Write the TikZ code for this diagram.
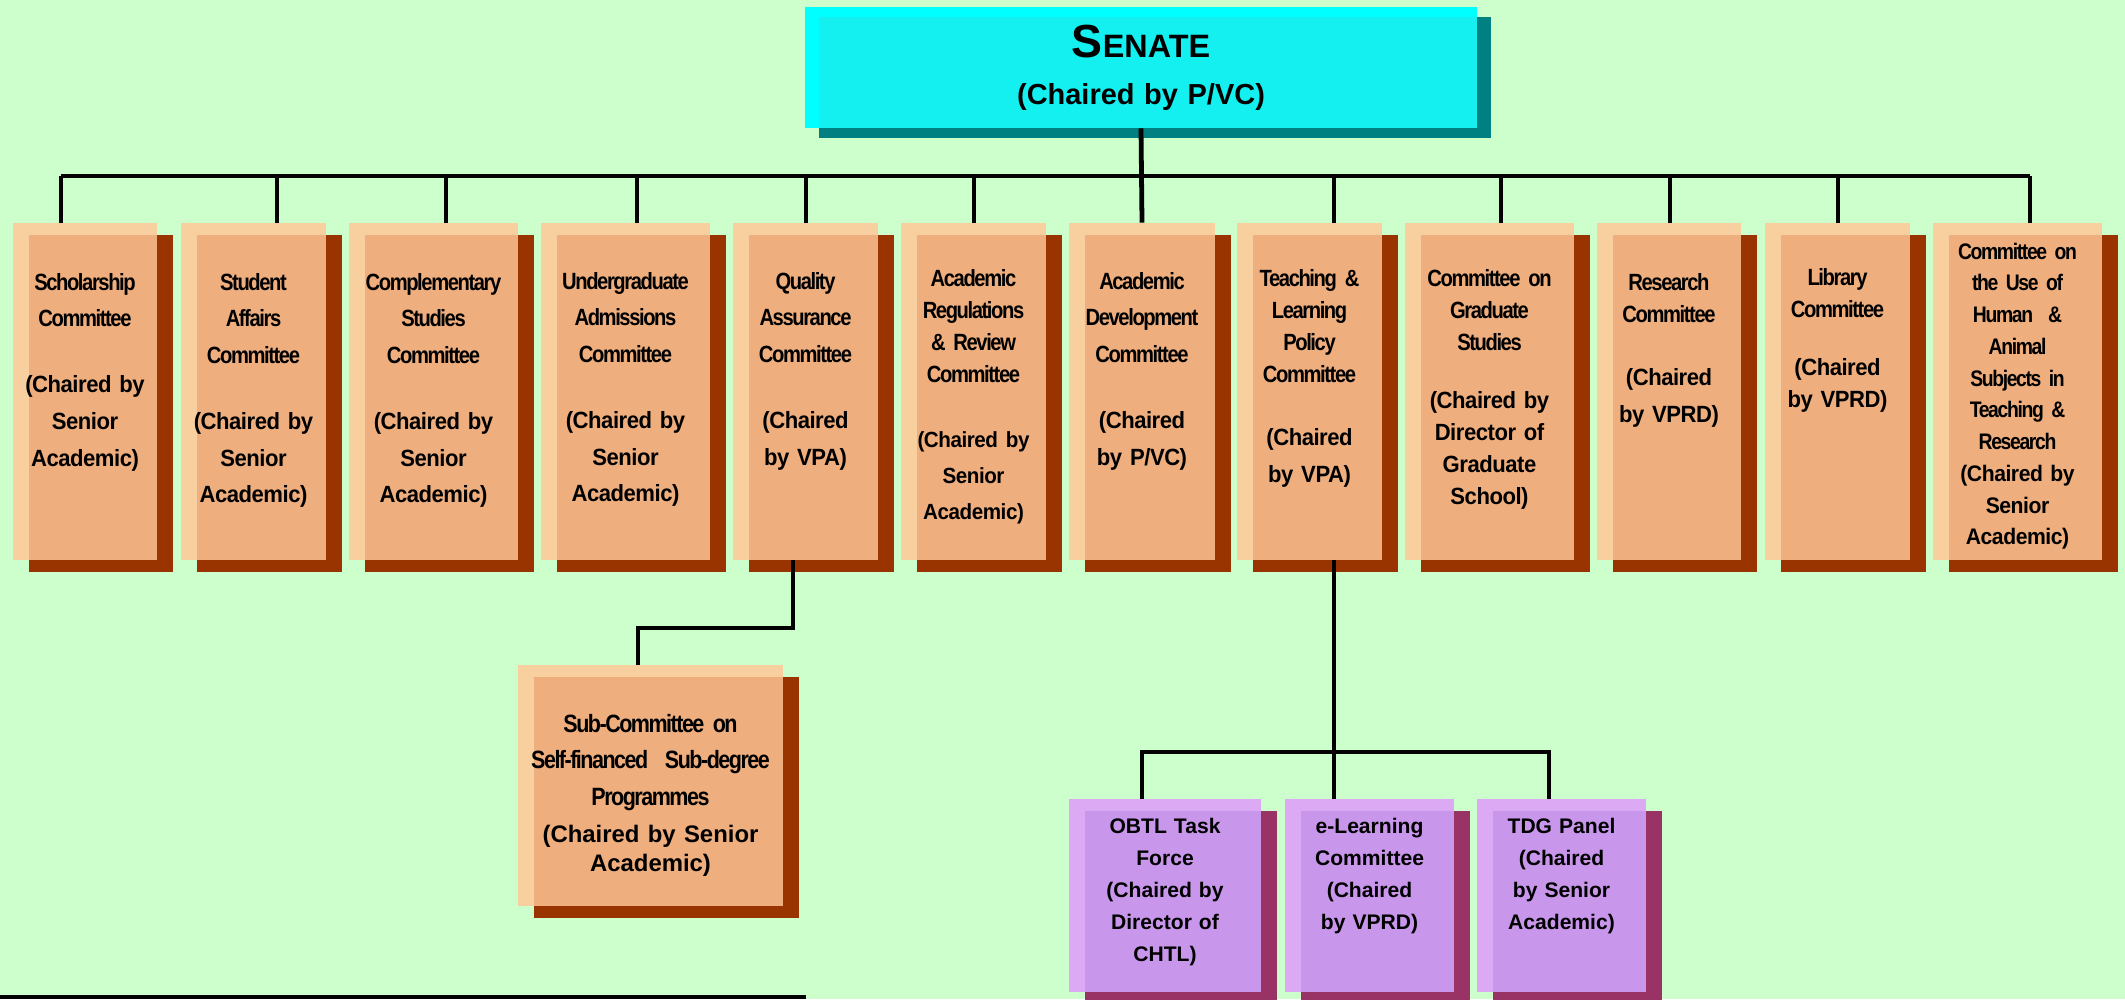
\documentclass[tikz,border=0pt]{standalone}
\usepackage{fontspec}
\setmainfont{Liberation Sans}
\newfontfamily\titlefont[FakeStretch=0.86,LetterSpace=-6]{Liberation Sans}
\newfontfamily\chairfont[FakeStretch=0.94,LetterSpace=-2]{Liberation Sans}
\usepackage{tikz}
\usepackage{xcolor}
\usetikzlibrary{fit,shadows}
\definecolor{BgGreen}{HTML}{CCFFCC}
\definecolor{PeachLight}{HTML}{F8D0A0}
\definecolor{PeachDark}{HTML}{EEAE7E}
\definecolor{Rust}{HTML}{993300}
\definecolor{CyanLight}{HTML}{00FFFF}
\definecolor{CyanDark}{HTML}{14F0F0}
\definecolor{Teal}{HTML}{008080}
\definecolor{LilacLight}{HTML}{DCAAF5}
\definecolor{LilacDark}{HTML}{C896EB}
\definecolor{Plum}{HTML}{993366}
\tikzset{
Link/.style={
 draw=black,
 line width=3.4pt,
 line join=miter
 },
OrangeBox/.style={
 inner sep=0pt,
 fill=PeachLight,
 general shadow={fill=Rust, shadow xshift=4mm, shadow yshift=-3mm},
 path picture={\fill[PeachDark] ([xshift=4mm,yshift=-3mm]path picture bounding box.north west) rectangle (path picture bounding box.south east);}
 },
LilacBox/.style={
 inner sep=0pt,
 fill=LilacLight,
 general shadow={fill=Plum, shadow xshift=4mm, shadow yshift=-3mm},
 path picture={\fill[LilacDark] ([xshift=4mm,yshift=-3mm]path picture bounding box.north west) rectangle (path picture bounding box.south east);}
 },
SenateBox/.style={
 inner sep=0pt,
 fill=CyanLight,
 general shadow={fill=Teal, shadow xshift=3.5mm, shadow yshift=-2.5mm},
 path picture={\fill[CyanDark] ([xshift=3.5mm,yshift=-2.5mm]path picture bounding box.north west) rectangle (path picture bounding box.south east);}
 },
BoxText/.style={
 anchor=base,
 inner sep=0pt,
 align=center,
 text width=#1,
 font=\bfseries\fontsize{16.7pt}{26.3pt}\selectfont
 },
TightText/.style={
 BoxText=#1,
 font=\bfseries\fontsize{16.7pt}{22.8pt}\selectfont
 },
SmallText/.style={
 BoxText=#1,
 font=\bfseries\fontsize{15pt}{22.8pt}\selectfont
 }
}
\begin{document}
\begin{tikzpicture}[x=0.25mm,y=-0.25mm]
\useasboundingbox (0,0) rectangle (2125,999);
\fill[BgGreen] (0,0) rectangle (2125,999);
% senate
\node[SenateBox, fit={(805,7) (1477,128)}] (senate) {};
\node[BoxText=168mm, font=\bfseries\fontsize{20.6pt}{33.5pt}\selectfont] (senate-t) at (1141,57) {{\fontsize{33pt}{33.5pt}\selectfont S}{\fontsize{23pt}{33.5pt}\selectfont ENATE}\\(Chaired by P/VC)};
% committees
\node[OrangeBox, fit={(13,223) (157,560)}] (scholarship) {};
\node[BoxText=36mm] (scholarship-t) at (85,290) {\titlefont Scholarship\\ Committee\\[20pt] \chairfont (Chaired by\\ Senior\\ Academic)};
\node[OrangeBox, fit={(181,223) (326,560)}] (affairs) {};
\node[BoxText=36.25mm] (affairs-t) at (253.5,290) {\titlefont Student\\ Affairs\\ Committee\\[20pt] \chairfont (Chaired by\\ Senior\\ Academic)};
\node[OrangeBox, fit={(349,223) (518,560)}] (complementary) {};
\node[BoxText=42.25mm] (complementary-t) at (433.5,290) {\titlefont Complementary\\ Studies\\ Committee\\[20pt] \chairfont (Chaired by\\ Senior\\ Academic)};
\node[OrangeBox, fit={(541,223) (710,560)}] (admissions) {};
\node[BoxText=42.25mm] (admissions-t) at (625.5,289) {\titlefont Undergraduate\\ Admissions\\ Committee\\[20pt] \chairfont (Chaired by\\ Senior\\ Academic)};
\node[OrangeBox, fit={(733,223) (878,560)}] (quality) {};
\node[BoxText=36.25mm] (quality-t) at (805.5,289) {\titlefont Quality\\ Assurance\\ Committee\\[20pt] \chairfont (Chaired\\ by VPA)};
\node[OrangeBox, fit={(901,223) (1046,560)}] (regulations) {};
\node[TightText=36.25mm] (regulations-t) at (973.5,286) {\titlefont Academic\\ Regulations\\ \& Review\\ Committee\\[23.5pt] \chairfont\fontsize{15.6pt}{22.8pt}\selectfont (Chaired by\\[2.8pt] Senior\\[2.8pt] Academic)};
\node[OrangeBox, fit={(1069,223) (1215,560)}] (development) {};
\node[BoxText=36.5mm] (development-t) at (1142,289) {\titlefont Academic\\ Development\\ Committee\\[20pt] \chairfont (Chaired\\ by P/VC)};
\node[OrangeBox, fit={(1237,223) (1382,560)}] (teaching) {};
\node[TightText=36.25mm] (teaching-t) at (1309.5,286) {\titlefont Teaching \&\\ Learning\\ Policy\\ Committee\\[22pt] \chairfont (Chaired\\[3.5pt] by VPA)};
\node[OrangeBox, fit={(1405,223) (1574,560)}] (graduate) {};
\node[TightText=42.25mm] (graduate-t) at (1489.5,286) {\titlefont Committee on\\ Graduate\\ Studies\\[18.5pt] \chairfont (Chaired by\\ Director of\\ Graduate\\ School)};
\node[OrangeBox, fit={(1597,223) (1741,560)}] (research) {};
\node[TightText=36mm] (research-t) at (1669,290) {\titlefont Research\\ Committee\\[22pt] \chairfont (Chaired\\[3.5pt] by VPRD)};
\node[OrangeBox, fit={(1765,223) (1910,560)}] (library) {};
\node[TightText=36.25mm] (library-t) at (1837.5,285) {\titlefont Library\\ Committee\\[18.5pt] \chairfont (Chaired\\ by VPRD)};
\node[OrangeBox, fit={(1933,223) (2102,560)}] (ethics) {};
\node[TightText=42.25mm, font=\bfseries\fontsize{16pt}{22.6pt}\selectfont] (ethics-t) at (2017.5,259) {\titlefont Committee on\\ the Use of\\ Human\ \ \&\\ Animal\\ Subjects in\\ Teaching \&\\ Research\\ \chairfont (Chaired by\\ Senior\\ Academic)};
% sub-committees
\node[OrangeBox, fit={(518,665) (783,906)}] (subdegree) {};
\node[BoxText=66mm, font=\bfseries\fontsize{17.8pt}{26.3pt}\selectfont] (subdegree-t) at (650.5,732) {\titlefont Sub-Committee on\\ Self-financed\ \ Sub-degree\\ Programmes\\ \rmfamily\fontsize{17pt}{26.3pt}\selectfont (Chaired by Senior\\[-5.7pt] Academic)};
\node[LilacBox, fit={(1069,799) (1261,992)}] (obtl) {};
\node[SmallText=48mm] (obtl-t) at (1165,833) {OBTL Task\\ Force\\ (Chaired by\\ Director of\\ CHTL)};
\node[LilacBox, fit={(1285,799) (1454,992)}] (elearning) {};
\node[SmallText=42.25mm] (elearning-t) at (1369.5,833) {e-Learning\\ Committee\\ (Chaired\\ by VPRD)};
\node[LilacBox, fit={(1477,799) (1646,992)}] (tdg) {};
\node[SmallText=42.25mm] (tdg-t) at (1561.5,833) {TDG Panel\\ (Chaired\\ by Senior\\ Academic)};
% connectors
\coordinate (drop-scholarship) at (61,176);
\coordinate (drop-affairs) at (277,176);
\coordinate (drop-complementary) at (446,176);
\coordinate (drop-admissions) at (637,176);
\coordinate (drop-quality) at (806,176);
\coordinate (drop-regulations) at (974,176);
\coordinate (drop-teaching) at (1334,176);
\coordinate (drop-graduate) at (1501,176);
\coordinate (drop-research) at (1670,176);
\coordinate (drop-library) at (1838,176);
\coordinate (drop-ethics) at (2030,176);
\draw[Link] (senate.south) -- (development.north);
\draw[Link] (drop-scholarship) -- (drop-ethics);
\draw[Link] (drop-scholarship) -- (drop-scholarship |- scholarship.north);
\draw[Link] (drop-affairs) -- (drop-affairs |- affairs.north);
\draw[Link] (drop-complementary) -- (drop-complementary |- complementary.north);
\draw[Link] (drop-admissions) -- (drop-admissions |- admissions.north);
\draw[Link] (drop-quality) -- (drop-quality |- quality.north);
\draw[Link] (drop-regulations) -- (drop-regulations |- regulations.north);
\draw[Link] (drop-teaching) -- (drop-teaching |- teaching.north);
\draw[Link] (drop-graduate) -- (drop-graduate |- graduate.north);
\draw[Link] (drop-research) -- (drop-research |- research.north);
\draw[Link] (drop-library) -- (drop-library |- library.north);
\draw[Link] (drop-ethics) -- (drop-ethics |- ethics.north);
\coordinate (qa-turn) at (793,628);
\coordinate (sub-turn) at (638,628);
\draw[Link] (qa-turn |- quality.south) -- (qa-turn) -- (sub-turn) -- (sub-turn |- subdegree.north);
\draw[Link] (drop-teaching |- teaching.south) -- (drop-teaching |- elearning.north);
\coordinate (tl-left) at (1142,752);
\coordinate (tl-right) at (1549,752);
\draw[Link] (tl-left |- obtl.north) -- (tl-left) -- (tl-right) -- (tl-right |- tdg.north);
\draw[Link] (0,997) -- (806,997);
\end{tikzpicture}
\end{document}
